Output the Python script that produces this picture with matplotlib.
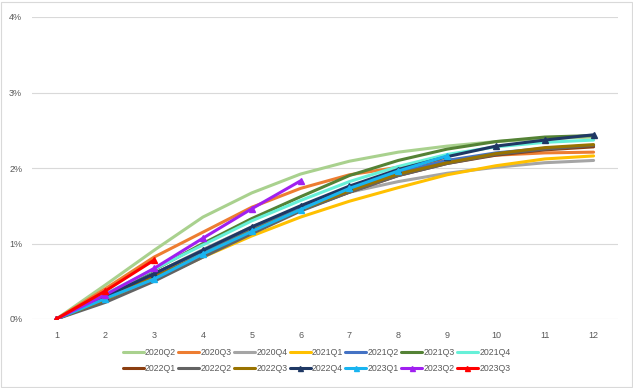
import matplotlib
matplotlib.use("Agg")
import matplotlib.pyplot as plt
from matplotlib.patches import Rectangle
from matplotlib.ticker import FuncFormatter

periods = list(range(1, 13))
series_names = ["2020Q2", "2020Q3", "2020Q4", "2021Q1", "2021Q2", "2021Q3", "2021Q4",
                "2022Q1", "2022Q2", "2022Q3", "2022Q4", "2023Q1", "2023Q2", "2023Q3"]

s2020Q2 = [0, 0.45, 0.91, 1.35, 1.67, 1.92, 2.09, 2.21, 2.29, 2.35, 2.39, 2.41]
s2020Q3 = [0, 0.40, 0.82, 1.15, 1.48, 1.73, 1.91, 2.01, 2.10, 2.17, 2.20, 2.21]
s2020Q4 = [0, 0.30, 0.60, 0.92, 1.22, 1.47, 1.68, 1.82, 1.93, 2.01, 2.07, 2.10]
s2021Q1 = [0, 0.25, 0.52, 0.82, 1.10, 1.35, 1.56, 1.74, 1.91, 2.03, 2.12, 2.16]
s2021Q2 = [0, 0.30, 0.60, 0.90, 1.20, 1.48, 1.72, 1.94, 2.10, 2.20, 2.26, 2.30]
s2021Q3 = [0, 0.32, 0.65, 1.00, 1.33, 1.62, 1.90, 2.10, 2.25, 2.35, 2.41, 2.43]
s2021Q4 = [0, 0.33, 0.66, 0.98, 1.30, 1.57, 1.82, 2.02, 2.18, 2.28, 2.34, 2.37]
s2022Q1 = [0, 0.28, 0.56, 0.85, 1.15, 1.44, 1.68, 1.90, 2.06, 2.17, 2.24, 2.28]
s2022Q2 = [0, 0.22, 0.50, 0.82, 1.13, 1.43, 1.68, 1.90, 2.06, 2.18, 2.25, 2.30]
s2022Q3 = [0, 0.26, 0.55, 0.86, 1.17, 1.45, 1.70, 1.92, 2.07, 2.19, 2.27, 2.31]
s2022Q4 = [0, 0.30, 0.60, 0.91, 1.22, 1.50, 1.76, 1.98, 2.15, 2.29, 2.37, 2.44]
s2023Q1 = [0, 0.27, 0.53, 0.86, 1.16, 1.45, 1.73, 1.96, 2.16]
s2023Q2 = [0, 0.32, 0.67, 1.07, 1.46, 1.83]
s2023Q3 = [0, 0.37, 0.78]

all_series = [s2020Q2, s2020Q3, s2020Q4, s2021Q1, s2021Q2, s2021Q3, s2021Q4,
              s2022Q1, s2022Q2, s2022Q3, s2022Q4, s2023Q1, s2023Q2, s2023Q3]
colors = ["#A9D18E", "#ED7D31", "#A5A5A5", "#FFC000", "#4472C4", "#548235", "#66F0D8",
          "#8B3E10", "#636363", "#997300", "#1F3864", "#19B4F0", "#A020F0", "#FF0000"]
markers = [None] * 10 + ["^", "^", "^", "^"]

plt.rcParams['font.family'] = ['Liberation Sans', 'DejaVu Sans']
fig = plt.figure(figsize=(6.33, 3.88), dpi=100)
ax = fig.add_axes([32/633, 1-319/388, (618-32)/633, (319-17)/388])

handles = []
for name, vals, c, m in zip(series_names, all_series, colors, markers):
    h, = ax.plot(periods[:len(vals)], vals, color=c, lw=2.2, marker=m, markersize=4.5,
                 label=name, solid_capstyle='round')
    handles.append(h)

ax.set_xlim(0.5, 12.5)
ax.set_ylim(0, 4)
ax.set_xticks(periods)
ax.set_yticks([0, 1, 2, 3, 4])
ax.yaxis.set_major_formatter(FuncFormatter(lambda v, p: f"{int(v)}%"))
ax.grid(axis='y', color='#D9D9D9', lw=0.8)
ax.set_axisbelow(True)
for s in ax.spines.values():
    s.set_visible(False)
ax.tick_params(length=0, colors='#595959', labelsize=6.5, pad=9)
ax.tick_params(axis='y', pad=7)

# row-major ordering for a 2x7 legend
ncol = 7
order = []
for c in range(ncol):
    for r in range(2):
        i = r * ncol + c
        if i < len(handles):
            order.append(i)
fig.legend([handles[i] for i in order], [series_names[i] for i in order],
           loc='center', bbox_to_anchor=(0.5, 1-360.5/388), ncol=ncol, frameon=False,
           fontsize=6.3, handlelength=2.4, handletextpad=0.15, columnspacing=0.25,
           labelcolor='#595959', labelspacing=0.75, markerscale=0.8)

fig.add_artist(Rectangle((0.5/633, 1/388), 1-2/633, 1-2.5/388, transform=fig.transFigure,
                         fill=False, edgecolor='#D9D9D9', lw=0.8))
fig.savefig("out.png", dpi=100)
